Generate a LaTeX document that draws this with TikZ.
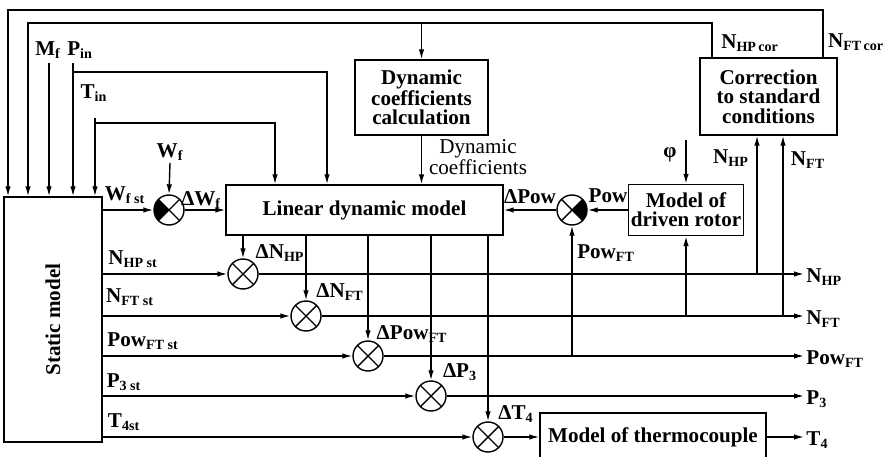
\documentclass[tikz,border=0pt]{standalone}
\usepackage{fontspec}
\setmainfont{Liberation Serif}
\usepackage{graphicx}
\usetikzlibrary{arrows.meta}

\newcommand{\varsub}[2]{#1\textsubscript{#2}}

\tikzset{
  blk/.style={draw, thick, align=center, inner sep=0pt,
    font=\fontsize{12}{11}\selectfont\bfseries},
  lbl/.style={inner sep=1pt, font=\fontsize{12}{13}\selectfont\bfseries},
  summ/.style={draw, thick, circle, minimum size=6mm, inner sep=0pt,
    path picture={
      \draw[thick] (path picture bounding box.north west) -- (path picture bounding box.south east)
        (path picture bounding box.south west) -- (path picture bounding box.north east);}},
  % summing point with the left sector blacked
  summL/.style={summ, path picture={
      \fill (path picture bounding box.center) -- (path picture bounding box.north west)
        -- (path picture bounding box.south west) -- cycle;
      \draw[thick] (path picture bounding box.north west) -- (path picture bounding box.south east)
        (path picture bounding box.south west) -- (path picture bounding box.north east);}},
  % summing point with the right sector blacked
  summR/.style={summ, path picture={
      \fill (path picture bounding box.center) -- (path picture bounding box.north east)
        -- (path picture bounding box.south east) -- cycle;
      \draw[thick] (path picture bounding box.north west) -- (path picture bounding box.south east)
        (path picture bounding box.south west) -- (path picture bounding box.north east);}},
}

\begin{document}
\begin{tikzpicture}[x=0.2mm, y=-0.2mm, thick, >={Latex[length=2mm,width=1.1mm]}]
  \useasboundingbox (0,0) rectangle (885,457);

  % blocks
  \node[blk, minimum width=19.6mm, minimum height=49mm] (static) at (53,319.5) {\rotatebox{90}{Static model}};
  \node[blk, minimum width=26.6mm, minimum height=15mm] (dyn) at (421.5,97.5) {Dynamic\\coefficients\\calculation};
  \node[blk, minimum width=55.4mm, minimum height=10mm] (ldm) at (364.5,210) {Linear dynamic model};
  \node[blk, minimum width=23mm, minimum height=10.2mm] (rotor) at (686,210) {Model of\\driven rotor};
  \node[blk, minimum width=27.4mm, minimum height=15.4mm] (corr) at (768.5,96.5) {Correction\\to standard\\conditions};
  \node[blk, minimum width=45.2mm, minimum height=9.6mm] (thermo) at (653,437) {Model of thermocouple};

  % summing points
  \node[summL] (sWf) at (169,210) {};
  \node[summR] (sPow) at (572,210) {};
  \node[summ] (sNHP) at (243,274) {};
  \node[summ] (sNFT) at (306,316) {};
  \node[summ] (sPFT) at (368,356) {};
  \node[summ] (sP3) at (431,396) {};
  \node[summ] (sT4) at (488,437) {};

  % inputs of the static model
  \node[lbl] (Mf) at (48,50) {\varsub{M}{f}};
  \node[lbl] (Pin) at (80,50) {\varsub{P}{in}};
  \node[lbl] (Tin) at (94,93) {\varsub{T}{in}};
  \coordinate (mfX) at (49,63);
  \coordinate (pinX) at (73,63);
  \coordinate (tinX) at (95,118);
  \coordinate (pinKnee) at (327,72);
  \coordinate (tinKnee) at (275,123);
  \draw[->] (mfX) -- (static.north -| mfX);
  \draw[->] (pinX) -- (static.north -| pinX);
  \draw[->] (tinX) -- (static.north -| tinX);
  \draw[->] (pinX |- pinKnee) -- (pinKnee) -- (ldm.north -| pinKnee);
  \draw[->] (tinX |- tinKnee) -- (tinKnee) -- (ldm.north -| tinKnee);

  % corrected speeds fed back
  \coordinate (loopA) at (8,10);
  \coordinate (loopB) at (28,23);
  \coordinate (tapFT) at (823,0);
  \coordinate (tapHP) at (712,0);
  \draw[->] (corr.north -| tapFT) |- (loopA) -- (static.north -| loopA);
  \draw[->] (corr.north -| tapHP) |- (loopB) -- (static.north -| loopB);
  \draw[->] (dyn.north |- loopB) -- (dyn.north);
  \node[lbl] (NHPcor) at (750,43) {\varsub{N}{HP\,cor}};
  \node[lbl] (NFTcor) at (856,42) {\varsub{N}{FT\,cor}};

  \draw[->] (dyn.south) -- (ldm.north -| dyn.south);
  \node[font=\fontsize{12}{11}\selectfont, align=center] (dcLbl) at (478,157) {Dynamic\\coefficients};

  % fuel flow
  \node[lbl] (WfIn) at (170,152) {\varsub{W}{f}};
  \node[lbl] (WfSt) at (125,195) {\varsub{W}{f st}};
  \node[lbl] (dWf) at (201,200) {Δ\varsub{W}{f}};
  \draw[->] (WfIn.south) -- (sWf.north);
  \draw[->] (static.east |- sWf) -- (sWf.west);
  \draw[->] (sWf.east) -- (ldm.west |- sWf);

  % power of the driven rotor
  \coordinate (phiX) at (686,140);
  \node[lbl] (phi) at (670,155) {φ};
  \node[lbl] (Pow) at (608,196) {Pow};
  \node[lbl] (dPow) at (530,197) {ΔPow};
  \node[lbl] (PowFT) at (606,253) {\varsub{Pow}{FT}};
  \draw[->] (phiX) -- (rotor.north);
  \draw[->] (rotor.west) -- (sPow.east);
  \draw[->] (sPow.west) -- (ldm.east |- sPow);
  \draw[->] (sPow |- sPFT) -- (sPow.south);
  \draw[->] (rotor.south |- sNFT) -- (rotor.south);

  % speeds to the correction block
  \coordinate (upHP) at (757,0);
  \coordinate (upFT) at (783,0);
  \node[lbl] (NHPup) at (731,158) {\varsub{N}{HP}};
  \node[lbl] (NFTup) at (808,160) {\varsub{N}{FT}};
  \draw[->] (upHP |- sNHP) -- (corr.south -| upHP);
  \draw[->] (upFT |- sNFT) -- (corr.south -| upFT);

  % static parts of the outputs
  \node[lbl] (NHPst) at (133,259) {\varsub{N}{HP st}};
  \node[lbl] (NFTst) at (130,297) {\varsub{N}{FT st}};
  \node[lbl] (PFTst) at (143,341) {\varsub{Pow}{FT st}};
  \node[lbl] (P3st) at (124,382) {\varsub{P}{3 st}};
  \node[lbl] (T4st) at (124,422) {\varsub{T}{4st}};
  \draw[->] (static.east |- sNHP) -- (sNHP.west);
  \draw[->] (static.east |- sNFT) -- (sNFT.west);
  \draw[->] (static.east |- sPFT) -- (sPFT.west);
  \draw[->] (static.east |- sP3) -- (sP3.west);
  \draw[->] (static.east |- sT4) -- (sT4.west);

  % dynamic increments
  \node[lbl] (dNHP) at (280,253) {Δ\varsub{N}{HP}};
  \node[lbl] (dNFT) at (340,292) {Δ\varsub{N}{FT}};
  \node[lbl] (dPFT) at (412,334) {Δ\varsub{Pow}{FT}};
  \node[lbl] (dP3) at (460,372) {Δ\varsub{P}{3}};
  \node[lbl] (dT4) at (516,414) {Δ\varsub{T}{4}};
  \foreach \s in {sNHP,sNFT,sPFT,sP3,sT4}
    \draw[->] (ldm.south -| \s) -- (\s.north);

  % outputs
  \node[lbl, anchor=west] (oNHP) at (804,277) {\varsub{N}{HP}};
  \node[lbl, anchor=west] (oNFT) at (804,319) {\varsub{N}{FT}};
  \node[lbl, anchor=west] (oPFT) at (804,359) {\varsub{Pow}{FT}};
  \node[lbl, anchor=west] (oP3) at (804,399) {\varsub{P}{3}};
  \node[lbl, anchor=west] (oT4) at (804,440) {\varsub{T}{4}};
  \draw[->] (sNHP.east) -- (sNHP -| oNHP.west);
  \draw[->] (sNFT.east) -- (sNFT -| oNFT.west);
  \draw[->] (sPFT.east) -- (sPFT -| oPFT.west);
  \draw[->] (sP3.east) -- (sP3 -| oP3.west);
  \draw[->] (sT4.east) -- (thermo.west |- sT4);
  \draw[->] (thermo.east |- sT4) -- (sT4 -| oT4.west);
\end{tikzpicture}
\end{document}
